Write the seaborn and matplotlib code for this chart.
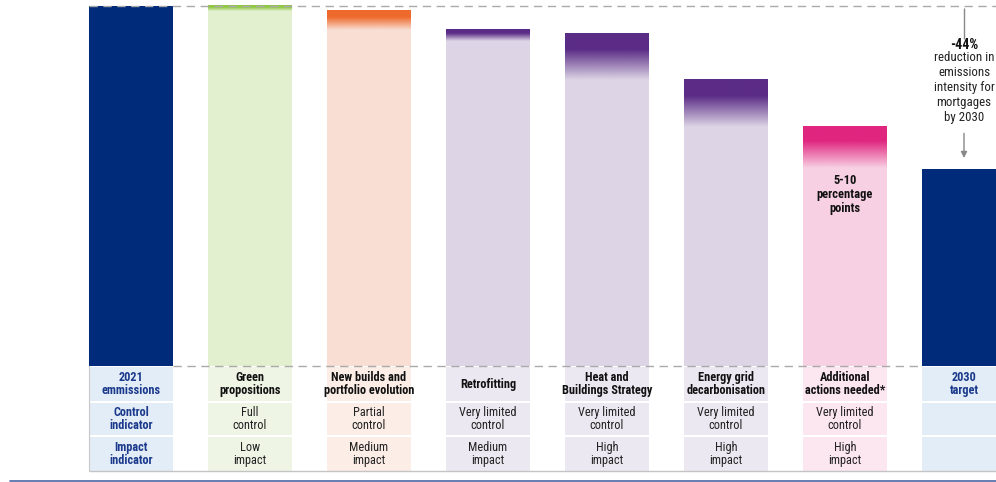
import numpy as np
import seaborn as sns
import matplotlib
matplotlib.use("Agg")
import matplotlib.pyplot as plt
from matplotlib.patches import Rectangle
from matplotlib.colors import to_rgb

# ---------------- data ----------------
categories = ["2021 emmissions", "Green propositions", "New builds and portfolio evolution",
              "Retrofitting", "Heat and Buildings Strategy", "Energy grid decarbonisation",
              "Additional actions needed*", "2030 target"]
header_labels = ["2021\nemmissions", "Green\npropositions", "New builds and\nportfolio evolution",
                 "Retrofitting", "Heat and\nBuildings Strategy", "Energy grid\ndecarbonisation",
                 "Additional\nactions needed*", "2030\ntarget"]
bar_tops = [100, 100, 98.6, 93.6, 92.2, 79.7, 66.4, 54.7]
lever_effect = [0, 1.4, 5.3, 3.3, 12.8, 13.3, 11.4, 0]
control_labels = ["Control\nindicator", "Full\ncontrol", "Partial\ncontrol", "Very limited\ncontrol",
                  "Very limited\ncontrol", "Very limited\ncontrol", "Very limited\ncontrol", ""]
impact_labels = ["Impact\nindicator", "Low\nimpact", "Medium\nimpact", "Medium\nimpact",
                 "High\nimpact", "High\nimpact", "High\nimpact", ""]
target_label = "-44%"
target_text = "reduction in\nemissions\nintensity for\nmortgages\nby 2030"
range_label = "5-10\npercentage\npoints"

# ---------------- style ----------------
NAVY = "#002A7A"
bar_colors = [NAVY, "#E2F0CF", "#F9DED3", "#DDD5E6", "#DDD5E6", "#DDD5E6", "#F8D0E3", NAVY]
accent_colors = [None, "#8FC743", "#EE6A2C", "#5B2C86", "#5B2C86", "#5B2C86", "#E0267F", None]
cell_colors = ["#E3EDF7", "#EEF5E5", "#FCEDE7", "#ECE8F2", "#ECE8F2", "#ECE8F2", "#FCE6EF", "#E3EDF7"]

sns.set_theme(style="white")
plt.rcParams["font.family"] = ["Roboto Condensed", "Roboto", "DejaVu Sans"]

fig = plt.figure(figsize=(9.96, 4.82), dpi=100)
ax = fig.add_axes([0, 0, 1, 1])

sns.barplot(x=categories, y=bar_tops, hue=categories, palette=bar_colors, width=0.70,
            saturation=1, legend=False, linewidth=0, ax=ax, zorder=2)

XL = (-1.1008, 7.269)
YL = (-32.22, 101.67)

patches = ax.patches[:len(categories)]

# gradient overlays for the lever effect
n = 200
t = np.linspace(0, 1, n)
alpha = np.clip((1 - t) / 0.65, 0, 1)
for i, p in enumerate(patches):
    if lever_effect[i] <= 0:
        continue
    rgb = to_rgb(accent_colors[i])
    img = np.zeros((n, 1, 4))
    img[:, 0, :3] = rgb
    img[:, 0, 3] = alpha
    x0, w = p.get_x(), p.get_width()
    top = bar_tops[i]
    ax.imshow(img, extent=[x0, x0 + w, top - lever_effect[i], top], origin="upper",
              aspect="auto", zorder=3, interpolation="bilinear")

# table rows
rows = [(-9.72, -0.28), (-19.17, -10.28), (-29.17, -19.72)]
FS = 8.8
LS = 1.07
for i, p in enumerate(patches):
    x0, w = p.get_x(), p.get_width()
    xc = x0 + w / 2
    for (y0, y1) in rows:
        ax.add_patch(Rectangle((x0, y0), w, y1 - y0, facecolor=cell_colors[i],
                               edgecolor="none", zorder=1))
    first = i == 0 or i == len(categories) - 1
    hcol = "#1B3A8C" if first else "#111111"
    ax.text(xc, -5.0, header_labels[i], ha="center", va="center", fontsize=FS,
            fontweight="bold", color=hcol, linespacing=LS, zorder=5)
    tcol = "#1B3A8C" if i == 0 else "#222222"
    tw = "bold" if i == 0 else "normal"
    ax.text(xc, -14.7, control_labels[i], ha="center", va="center", fontsize=FS,
            fontweight=tw, color=tcol, linespacing=LS, zorder=5)
    ax.text(xc, -24.45, impact_labels[i], ha="center", va="center", fontsize=FS,
            fontweight=tw, color=tcol, linespacing=LS, zorder=5)

# reference lines
p0, p7 = patches[0], patches[-1]
ax.hlines(100, p0.get_x(), XL[1], colors="#AAAAAA", linestyles=(0, (6, 4)), lw=1, zorder=4)
ax.hlines(0, p0.get_x() + p0.get_width(), p7.get_x(), colors="#AAAAAA",
          linestyles=(0, (6, 4)), lw=1, zorder=4)
ax.hlines(-29.17, p0.get_x(), XL[1], colors="#C4C4C4", lw=1, zorder=4)
ax.axhline(-31.94, xmin=0.01, xmax=1, color="#4A67A6", lw=1.2, zorder=4)
ax.vlines(p0.get_x(), -29.17, 100, colors="#C8C8C8", lw=0.8, zorder=1)

# annotation for the target
xt = p7.get_x() + p7.get_width() / 2
ax.vlines(xt, 90.8, 99.4, colors="#888888", lw=1, zorder=4)
ax.text(xt, 89.2, target_label, ha="center", va="center", fontsize=10, fontweight="bold",
        color="#111111")
ax.text(xt, 87.6, target_text, ha="center", va="top", fontsize=9.3, color="#222222",
        linespacing=1.2)
ax.annotate("", xy=(xt, 57.0), xytext=(xt, 65.4),
            arrowprops=dict(arrowstyle="-|>", color="#888888", lw=1, mutation_scale=9))

# range label in the additional actions bar
p6 = patches[6]
ax.text(p6.get_x() + p6.get_width() / 2, 47.6, range_label, ha="center", va="center",
        fontsize=9, fontweight="bold", color="#111111", linespacing=1.07, zorder=5)

ax.set_xlim(*XL)
ax.set_ylim(*YL)
ax.axis("off")
fig.savefig("out.png", dpi=100)
